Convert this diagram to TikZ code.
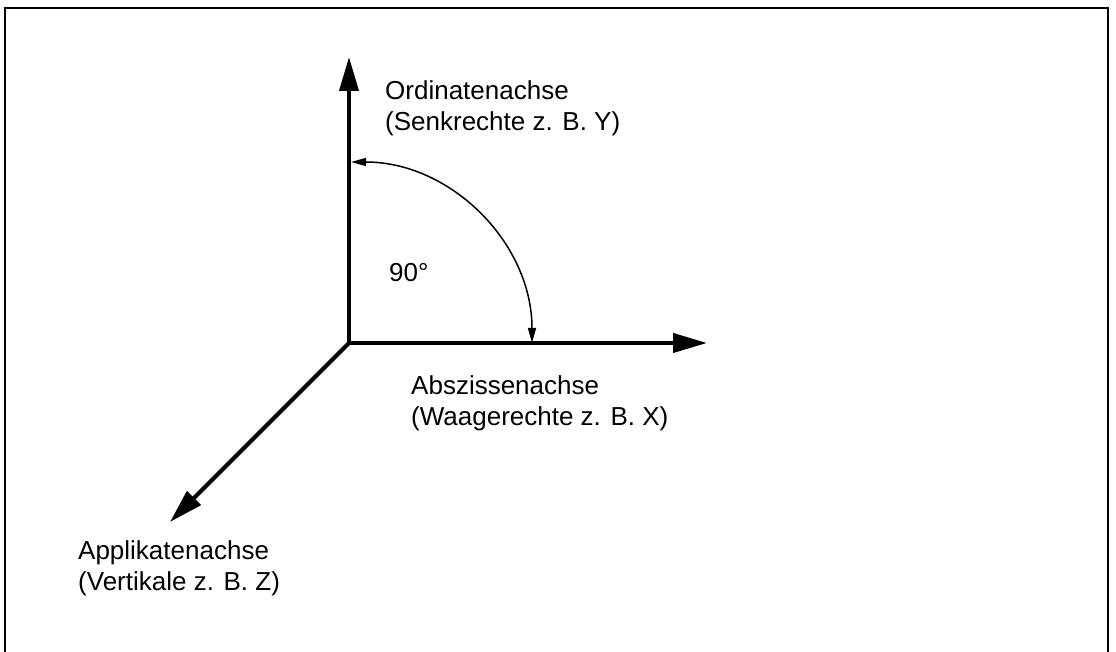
\documentclass[tikz,border=0pt]{standalone}
\usepackage{fontspec}
\setmainfont{Liberation Sans}
\usetikzlibrary{arrows.meta}
\begin{document}
\begin{tikzpicture}[x=1pt,y=1pt,
  axis/.style={line width=4pt,-{Triangle[length=34pt,width=19pt]}},
  anglearc/.style={line width=1.5pt,{Triangle[length=15pt,width=8pt]}-{Triangle[length=15pt,width=8pt]}},
  frame/.style={line width=2pt},
  lbl/.style={anchor=base west,inner sep=0pt,align=left,font=\fontsize{26}{31.5}\selectfont}]
\useasboundingbox (0,0) rectangle (1116,652);
% frame
\coordinate (FBL) at (5,-10);
\coordinate (FTL) at (5,644);
\coordinate (FTR) at (1108,644);
\coordinate (FBR) at (1108,-10);
\draw[frame] (FBL) -- (FTL) -- (FTR) -- (FBR);
% axes
\coordinate (O) at (349,309);
\coordinate (Y) at (349,595);
\coordinate (X) at (707,309);
\coordinate (Z) at (170,130);
\draw[axis] (O) -- (Y);
\draw[axis] (O) -- (X);
\draw[axis] (O) -- (Z);
% angle arc
\coordinate (A2) at (351,490);
\draw[anglearc] (A2) arc[start angle=90,end angle=0,radius=181];
% labels (anchor at baseline of the last line)
\node[lbl] (ylab) at (385,521) {Ordinatenachse\\(Senkrechte z. B. Y)};
\node[lbl] (ang) at (389,370) {90°};
\node[lbl] (xlab) at (411,226) {Abszissenachse\\(Waagerechte z. B. X)};
\node[lbl] (zlab) at (78,61) {Applikatenachse\\(Vertikale z. B. Z)};
\end{tikzpicture}
\end{document}
